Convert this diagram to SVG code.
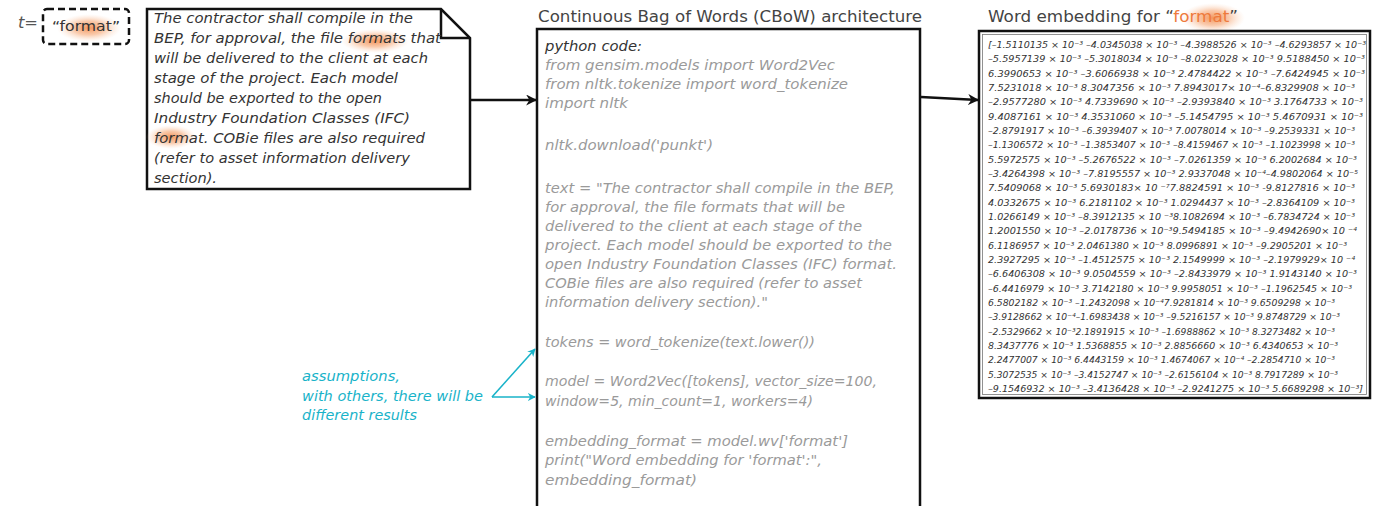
<svg xmlns="http://www.w3.org/2000/svg" width="1380" height="506" viewBox="0 0 1380 506">
  <style>
    .box { fill: #ffffff; stroke: #111111; stroke-width: 2.5; }
    .note { font-family: "DejaVu Sans", "Noto Sans", sans-serif; font-style: italic; font-size: 13.5px; fill: #333333; }
    .code { font-family: "DejaVu Sans", "Noto Sans", sans-serif; font-style: italic; font-size: 13.5px; fill: #9a9a9a; }
    .codehead { fill: #333333; }
    .title { font-family: "DejaVu Sans", "Noto Sans", sans-serif; font-size: 15px; fill: #444444; }
    .vec { font-family: "DejaVu Sans", "Noto Sans", sans-serif; font-style: italic; font-size: 9.4px; fill: #333333; }
    .cyan { font-family: "DejaVu Sans", "Noto Sans", sans-serif; font-style: italic; font-size: 13.5px; fill: #19b3c9; }
    .edge { fill: none; stroke: #111111; stroke-width: 2.5; }
    .edge-c { fill: none; stroke: #19b3c9; stroke-width: 1.6; }
  </style>
  <defs>
    <radialGradient id="glow">
      <stop offset="0" stop-color="#f28a4a" stop-opacity="0.9"/>
      <stop offset="0.5" stop-color="#f5a06a" stop-opacity="0.55"/>
      <stop offset="1" stop-color="#fbd3b8" stop-opacity="0"/>
    </radialGradient>
    <marker id="arrow" viewBox="0 0 10 10" refX="9" refY="5" markerWidth="4.4" markerHeight="4.4" orient="auto" markerUnits="strokeWidth">
      <path d="M0,0 L10,5 L0,10 L3,5 Z" fill="#111111"/>
    </marker>
    <marker id="arrow-c" viewBox="0 0 10 10" refX="9" refY="5" markerWidth="5" markerHeight="5" orient="auto" markerUnits="strokeWidth">
      <path d="M0,0 L10,5 L0,10 L3,5 Z" fill="#19b3c9"/>
    </marker>
  </defs>

  <rect width="1380" height="506" fill="#ffffff"/>

  <!-- search term -->
  <g id="term">
    <text x="18" y="28" font-family="DejaVu Sans, sans-serif" font-style="italic" font-size="16" fill="#555555" textLength="20" lengthAdjust="spacingAndGlyphs">t=</text>
    <rect x="43" y="9" width="86" height="35" rx="4" fill="none" stroke="#111111" stroke-width="2.5" stroke-dasharray="7,4"/>
    <ellipse cx="89" cy="28" rx="32" ry="14" fill="url(#glow)"/>
    <text x="52" y="31" font-family="DejaVu Sans, sans-serif" font-size="14" fill="#333333" textLength="68" lengthAdjust="spacingAndGlyphs">“format”</text>
  </g>

  <!-- source paragraph (note shape) -->
  <g id="paragraph">
    <path class="box" d="M147,9 L441,9 L470,38 L470,189 L147,189 Z"/>
    <path d="M441,9 L441,38 L470,38" fill="none" stroke="#111111" stroke-width="2.5"/>
    <ellipse cx="375" cy="41" rx="34" ry="12" fill="url(#glow)"/>
    <ellipse cx="171" cy="137" rx="25" ry="12" fill="url(#glow)"/>
    <text class="note" x="154" y="23" textLength="259" lengthAdjust="spacingAndGlyphs">The contractor shall compile in the</text>
    <text class="note" x="154" y="43" textLength="287" lengthAdjust="spacingAndGlyphs">BEP, for approval, the file formats that</text>
    <text class="note" x="154" y="63" textLength="274" lengthAdjust="spacingAndGlyphs">will be delivered to the client at each</text>
    <text class="note" x="154" y="83" textLength="244" lengthAdjust="spacingAndGlyphs">stage of the project. Each model</text>
    <text class="note" x="154" y="103" textLength="228" lengthAdjust="spacingAndGlyphs">should be exported to the open</text>
    <text class="note" x="154" y="123" textLength="256" lengthAdjust="spacingAndGlyphs">Industry Foundation Classes (IFC)</text>
    <text class="note" x="154" y="143" textLength="271" lengthAdjust="spacingAndGlyphs">format. COBie files are also required</text>
    <text class="note" x="154" y="163" textLength="256" lengthAdjust="spacingAndGlyphs">(refer to asset information delivery</text>
    <text class="note" x="154" y="183" textLength="63" lengthAdjust="spacingAndGlyphs">section).</text>
  </g>

  <!-- CBoW code block -->
  <g id="cbow">
    <text class="title" x="538" y="22" textLength="384" lengthAdjust="spacingAndGlyphs">Continuous Bag of Words (CBoW) architecture</text>
    <rect class="box" x="537" y="29" width="383" height="490"/>
    <text class="code codehead" x="545" y="51" textLength="97" lengthAdjust="spacingAndGlyphs">python code:</text>
    <text class="code" x="545" y="70" textLength="290" lengthAdjust="spacingAndGlyphs">from gensim.models import Word2Vec</text>
    <text class="code" x="545" y="89" textLength="303" lengthAdjust="spacingAndGlyphs">from nltk.tokenize import word_tokenize</text>
    <text class="code" x="545" y="108" textLength="83" lengthAdjust="spacingAndGlyphs">import nltk</text>
    <text class="code" x="545" y="150" textLength="168" lengthAdjust="spacingAndGlyphs">nltk.download('punkt')</text>
    <text class="code" x="545" y="193" textLength="350" lengthAdjust="spacingAndGlyphs">text = "The contractor shall compile in the BEP,</text>
    <text class="code" x="545" y="212" textLength="300" lengthAdjust="spacingAndGlyphs">for approval, the file formats that will be</text>
    <text class="code" x="545" y="231" textLength="317" lengthAdjust="spacingAndGlyphs">delivered to the client at each stage of the</text>
    <text class="code" x="545" y="250" textLength="347" lengthAdjust="spacingAndGlyphs">project. Each model should be exported to the</text>
    <text class="code" x="545" y="269" textLength="352" lengthAdjust="spacingAndGlyphs">open Industry Foundation Classes (IFC) format.</text>
    <text class="code" x="545" y="288" textLength="317" lengthAdjust="spacingAndGlyphs">COBie files are also required (refer to asset</text>
    <text class="code" x="545" y="307" textLength="223" lengthAdjust="spacingAndGlyphs">information delivery section)."</text>
    <text class="code" x="545" y="347" textLength="270" lengthAdjust="spacingAndGlyphs">tokens = word_tokenize(text.lower())</text>
    <text class="code" x="545" y="386" textLength="332" lengthAdjust="spacingAndGlyphs">model = Word2Vec([tokens], vector_size=100,</text>
    <text class="code" x="545" y="406" textLength="268" lengthAdjust="spacingAndGlyphs">window=5, min_count=1, workers=4)</text>
    <text class="code" x="545" y="446" textLength="303" lengthAdjust="spacingAndGlyphs">embedding_format = model.wv['format']</text>
    <text class="code" x="545" y="465" textLength="277" lengthAdjust="spacingAndGlyphs">print("Word embedding for 'format':",</text>
    <text class="code" x="545" y="485" textLength="152" lengthAdjust="spacingAndGlyphs">embedding_format)</text>
  </g>

  <!-- resulting word vector -->
  <g id="embedding">
    <ellipse cx="1213" cy="18" rx="32" ry="15" fill="url(#glow)"/>
    <text class="title" x="988" y="22" textLength="250" lengthAdjust="spacingAndGlyphs">Word embedding for “<tspan fill="#ee7a3c">format</tspan>”</text>
    <rect class="box" x="979" y="31" width="391" height="367"/>
    <rect x="982.5" y="34.5" width="384" height="360" fill="none" stroke="#777777" stroke-width="0.8"/>
    <text class="vec" x="988" y="48" textLength="378" lengthAdjust="spacingAndGlyphs">[–1.5110135 × 10⁻³ –4.0345038 × 10⁻³ –4.3988526 × 10⁻³ –4.6293857 × 10⁻³</text>
    <text class="vec" x="988" y="62.3" textLength="377" lengthAdjust="spacingAndGlyphs">–5.5957139 × 10⁻³ –5.3018034 × 10⁻³ –8.0223028 × 10⁻³ 9.5188450 × 10⁻³</text>
    <text class="vec" x="988" y="76.7" textLength="377" lengthAdjust="spacingAndGlyphs">6.3990653 × 10⁻³ –3.6066938 × 10⁻³ 2.4784422 × 10⁻³ –7.6424945 × 10⁻³</text>
    <text class="vec" x="988" y="91" textLength="367" lengthAdjust="spacingAndGlyphs">7.5231018 × 10⁻³ 8.3047356 × 10⁻³ 7.8943017× 10⁻⁴–6.8329908 × 10⁻³</text>
    <text class="vec" x="988" y="105.3" textLength="375" lengthAdjust="spacingAndGlyphs">–2.9577280 × 10⁻³ 4.7339690 × 10⁻³ –2.9393840 × 10⁻³ 3.1764733 × 10⁻³</text>
    <text class="vec" x="988" y="119.7" textLength="375" lengthAdjust="spacingAndGlyphs">9.4087161 × 10⁻³ 4.3531060 × 10⁻³ –5.1454795 × 10⁻³ 5.4670931 × 10⁻³</text>
    <text class="vec" x="988" y="134" textLength="367" lengthAdjust="spacingAndGlyphs">–2.8791917 × 10⁻³ –6.3939407 × 10⁻³ 7.0078014 × 10⁻³ –9.2539331 × 10⁻³</text>
    <text class="vec" x="988" y="148.3" textLength="367" lengthAdjust="spacingAndGlyphs">–1.1306572 × 10⁻³ –1.3853407 × 10⁻³ –8.4159467 × 10⁻³ –1.1023998 × 10⁻³</text>
    <text class="vec" x="988" y="162.7" textLength="369" lengthAdjust="spacingAndGlyphs">5.5972575 × 10⁻³ –5.2676522 × 10⁻³ –7.0261359 × 10⁻³ 6.2002684 × 10⁻³</text>
    <text class="vec" x="988" y="177" textLength="370" lengthAdjust="spacingAndGlyphs">–3.4264398 × 10⁻³ –7.8195557 × 10⁻³ 2.9337048 × 10⁻⁴–4.9802064 × 10⁻⁵</text>
    <text class="vec" x="988" y="191.3" textLength="367" lengthAdjust="spacingAndGlyphs">7.5409068 × 10⁻³ 5.6930183× 10 ⁻⁷7.8824591 × 10⁻³ -9.8127816 × 10⁻³</text>
    <text class="vec" x="988" y="205.7" textLength="367" lengthAdjust="spacingAndGlyphs">4.0332675 × 10⁻³ 6.2181102 × 10⁻³ 1.0294437 × 10⁻³ –2.8364109 × 10⁻³</text>
    <text class="vec" x="988" y="220" textLength="367" lengthAdjust="spacingAndGlyphs">1.0266149 × 10⁻³ –8.3912135 × 10 ⁻³8.1082694 × 10⁻³ –6.7834724 × 10⁻³</text>
    <text class="vec" x="988" y="234.3" textLength="369" lengthAdjust="spacingAndGlyphs">1.2001550 × 10⁻³ –2.0178736 × 10⁻³9.5494185 × 10⁻³ –9.4942690× 10 ⁻⁴</text>
    <text class="vec" x="988" y="248.7" textLength="359" lengthAdjust="spacingAndGlyphs">6.1186957 × 10⁻³ 2.0461380 × 10⁻³ 8.0996891 × 10⁻³ –9.2905201 × 10⁻³</text>
    <text class="vec" x="988" y="263" textLength="367" lengthAdjust="spacingAndGlyphs">2.3927295 × 10⁻³ –1.4512575 × 10⁻³ 2.1549999 × 10⁻³ –2.1979929× 10 ⁻⁴</text>
    <text class="vec" x="988" y="277.3" textLength="369" lengthAdjust="spacingAndGlyphs">–6.6406308 × 10⁻³ 9.0504559 × 10⁻³ –2.8433979 × 10⁻³ 1.9143140 × 10⁻³</text>
    <text class="vec" x="988" y="291.7" textLength="364" lengthAdjust="spacingAndGlyphs">–6.4416979 × 10⁻³ 3.7142180 × 10⁻³ 9.9958051 × 10⁻³ –1.1962545 × 10⁻³</text>
    <text class="vec" x="988" y="306" textLength="347" lengthAdjust="spacingAndGlyphs">6.5802182 × 10⁻³ –1.2432098 × 10⁻⁴7.9281814 × 10⁻³ 9.6509298 × 10⁻³</text>
    <text class="vec" x="988" y="320.3" textLength="352" lengthAdjust="spacingAndGlyphs">–3.9128662 × 10⁻⁴–1.6983438 × 10⁻³ –9.5216157 × 10⁻³ 9.8748729 × 10⁻³</text>
    <text class="vec" x="988" y="334.7" textLength="347" lengthAdjust="spacingAndGlyphs">–2.5329662 × 10⁻³2.1891915 × 10⁻³ –1.6988862 × 10⁻³ 8.3273482 × 10⁻³</text>
    <text class="vec" x="988" y="349" textLength="350" lengthAdjust="spacingAndGlyphs">8.3437776 × 10⁻³ 1.5368855 × 10⁻³ 2.8856660 × 10⁻³ 6.4340653 × 10⁻³</text>
    <text class="vec" x="988" y="363.3" textLength="347" lengthAdjust="spacingAndGlyphs">2.2477007 × 10⁻³ 6.4443159 × 10⁻³ 1.4674067 × 10⁻⁴ –2.2854710 × 10⁻³</text>
    <text class="vec" x="988" y="377.7" textLength="350" lengthAdjust="spacingAndGlyphs">5.3072535 × 10⁻³ –3.4152747 × 10⁻³ –2.6156104 × 10⁻³ 8.7917289 × 10⁻³</text>
    <text class="vec" x="988" y="392" textLength="375" lengthAdjust="spacingAndGlyphs">–9.1546932 × 10⁻³ –3.4136428 × 10⁻³ –2.9241275 × 10⁻³ 5.6689298 × 10⁻³]</text>
  </g>

  <!-- annotation -->
  <g id="assumptions">
    <text class="cyan" x="302" y="381" textLength="98" lengthAdjust="spacingAndGlyphs">assumptions,</text>
    <text class="cyan" x="302" y="401" textLength="181" lengthAdjust="spacingAndGlyphs">with others, there will be</text>
    <text class="cyan" x="302" y="420" textLength="115" lengthAdjust="spacingAndGlyphs">different results</text>
  </g>

  <!-- connectors -->
  <g id="connectors">
    <line class="edge" x1="470" y1="100" x2="536" y2="100" marker-end="url(#arrow)"/>
    <line class="edge" x1="921" y1="97" x2="978" y2="100" marker-end="url(#arrow)"/>
    <path class="edge-c" d="M492,397 L535,349" marker-end="url(#arrow-c)"/>
    <path class="edge-c" d="M492,397 L535,397" marker-end="url(#arrow-c)"/>
  </g>
</svg>
